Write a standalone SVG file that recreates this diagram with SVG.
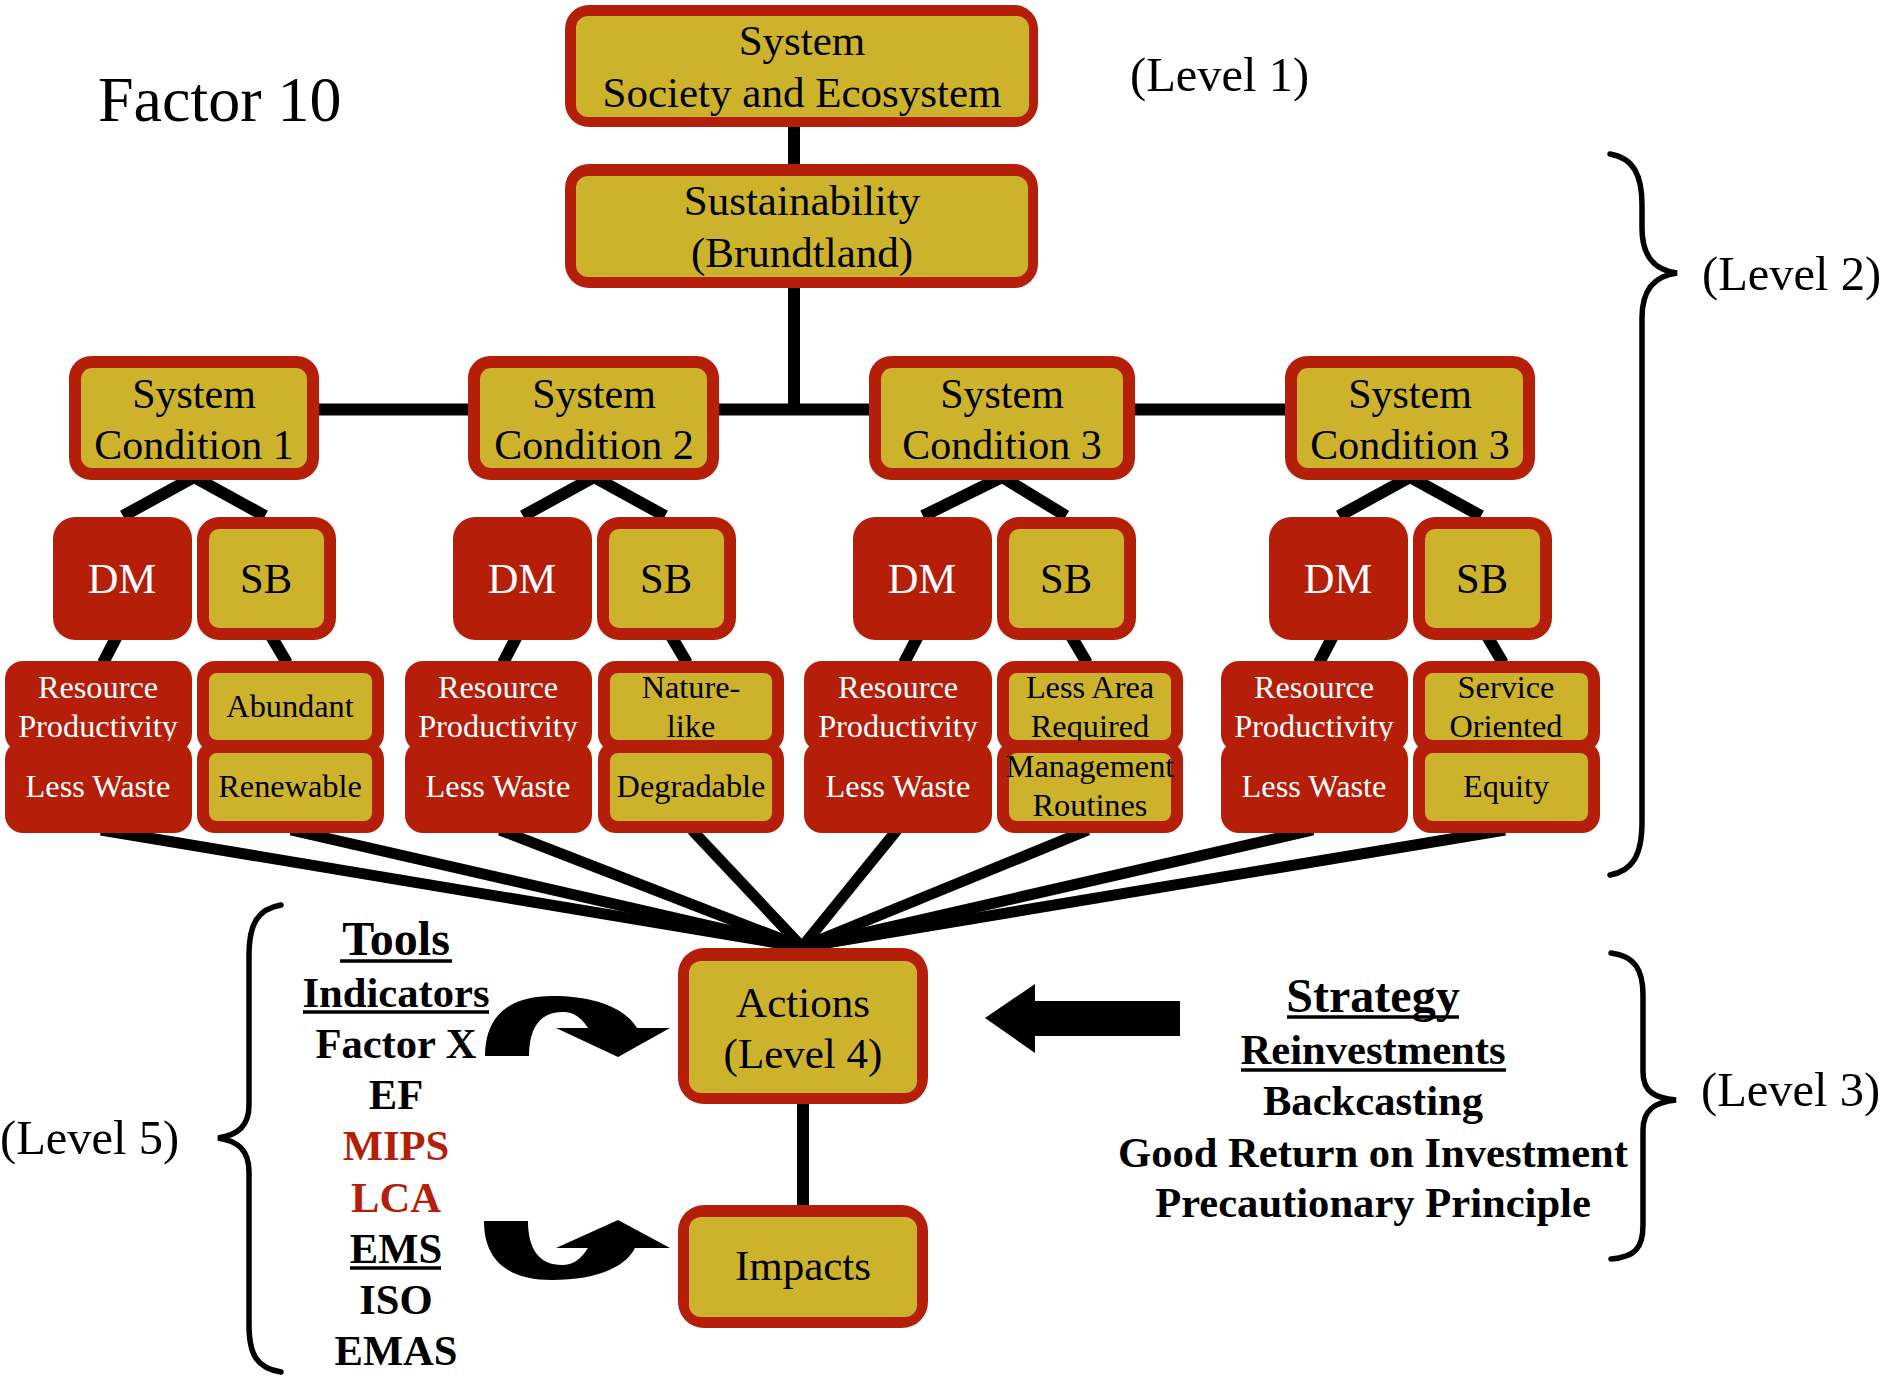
<svg xmlns="http://www.w3.org/2000/svg" width="1886" height="1378" viewBox="0 0 1886 1378">
  <style>
    text { font-family: "Liberation Serif", "Times New Roman", serif; }
    .red { fill: #B51F0A; }
    .gold { fill: #CDB22B; }
    .t43 { font-size: 43px; text-anchor: middle; fill: #000; }
    .t42 { font-size: 42px; text-anchor: middle; fill: #000; }
    .w42 { font-size: 42.5px; text-anchor: middle; fill: #fff; }
    .s42 { font-size: 42.5px; text-anchor: middle; fill: #000; }
    .t32 { font-size: 32.3px; text-anchor: middle; fill: #000; }
    .w32 { font-size: 32.3px; text-anchor: middle; fill: #fff; }
    .lvl { font-size: 48.5px; fill: #000; }
    .bold { font-size: 42.6px; font-weight: bold; text-anchor: middle; fill: #000; }
    .head { font-size: 48px; font-weight: bold; text-anchor: middle; fill: #000; }
    .hl { fill: #B51F0A; }
    .link { stroke: #000; stroke-width: 12; fill: none; stroke-linecap: butt; }
    .fan { stroke: #000; stroke-width: 11; fill: none; }
    .ul { stroke: #000; stroke-width: 3.5; }
    .brace { stroke: #000; stroke-width: 5.5; fill: none; stroke-linecap: round; }
  </style>

  <!-- connectors -->
  <g id="connectors">
    <line class="link" x1="794" y1="120" x2="794" y2="170"/>
    <line class="link" x1="794" y1="280" x2="794" y2="410"/>
    <line class="link" x1="194" y1="409.5" x2="1410" y2="409.5"/>
    <!-- condition to DM / SB -->
    <polyline class="link" points="123,516 194,477 265,516" stroke-linejoin="miter"/>
    <polyline class="link" points="523,516 594,477 665,516" stroke-linejoin="miter"/>
    <polyline class="link" points="923,516 1002,477 1066,516" stroke-linejoin="miter"/>
    <polyline class="link" points="1339,516 1410,477 1481,516" stroke-linejoin="miter"/>
    <!-- DM / SB to sub-boxes -->
    <line class="link" x1="117" y1="636" x2="103" y2="663"/>
    <line class="link" x1="271" y1="636" x2="287" y2="663"/>
    <line class="link" x1="517" y1="636" x2="503" y2="663"/>
    <line class="link" x1="671" y1="636" x2="687" y2="663"/>
    <line class="link" x1="918" y1="636" x2="904" y2="663"/>
    <line class="link" x1="1071" y1="636" x2="1087" y2="663"/>
    <line class="link" x1="1333" y1="636" x2="1319" y2="663"/>
    <line class="link" x1="1487" y1="636" x2="1503" y2="663"/>
    <!-- fan into Actions -->
    <line class="fan" x1="101" y1="830" x2="802" y2="947"/>
    <line class="fan" x1="291" y1="830" x2="802" y2="947"/>
    <line class="fan" x1="500" y1="830" x2="802" y2="947"/>
    <line class="fan" x1="692" y1="830" x2="802" y2="947"/>
    <line class="fan" x1="897" y1="830" x2="802" y2="947"/>
    <line class="fan" x1="1088" y1="830" x2="802" y2="947"/>
    <line class="fan" x1="1313" y1="830" x2="802" y2="947"/>
    <line class="fan" x1="1505" y1="830" x2="802" y2="947"/>
    <!-- Actions to Impacts -->
    <line class="link" x1="803" y1="1100" x2="803" y2="1210"/>
    <!-- curved arrows -->
    <path d="M485 1056 C485 1015 510 996 552 996 C595 996 625 1008 637 1028 L670 1028 L618 1057 L556 1028 L588 1028 C580 1016 573 1012 562 1012 C540 1012 529 1028 529 1056 Z" fill="#000"/>
    <path d="M484 1221 C484 1262 510 1280 552 1280 C595 1280 625 1268 635 1248 L670 1248 L618 1220 L556 1248 L588 1248 C580 1260 573 1265 562 1265 C540 1265 528 1250 528 1221 Z" fill="#000"/>
    <!-- strategy arrow -->
    <polygon points="985,1018 1035,984 1035,1001 1180,1001 1180,1036 1035,1036 1035,1053" fill="#000"/>
  </g>

  <text class="lvl" x="98" y="121" style="font-size:64px">Factor 10</text>

  <g id="level1">
    <rect class="red" x="565" y="5" width="473" height="122" rx="24"/>
    <rect class="gold" x="576" y="16" width="453" height="101" rx="12"/>
    <text class="t43" x="802" y="55">System</text>
    <text class="t43" x="802" y="107">Society and Ecosystem</text>
  </g>
  <text class="lvl" x="1130" y="91">(Level 1)</text>

  <g id="sustainability">
    <rect class="red" x="565" y="164" width="473" height="124" rx="24"/>
    <rect class="gold" x="576" y="176" width="452" height="101" rx="12"/>
    <text class="t43" x="802" y="215">Sustainability</text>
    <text class="t43" x="802" y="267">(Brundtland)</text>
  </g>

  <!-- system conditions -->
  <g id="sc1">
    <rect class="red" x="69" y="356" width="250" height="124" rx="22"/>
    <rect class="gold" x="81" y="368" width="226" height="100" rx="11"/>
    <text class="t42" x="194" y="408">System</text>
    <text class="t42" x="194" y="459">Condition 1</text>
  </g>
  <g id="sc2">
    <rect class="red" x="468" y="356" width="251" height="124" rx="22"/>
    <rect class="gold" x="480" y="368" width="227" height="100" rx="11"/>
    <text class="t42" x="594" y="408">System</text>
    <text class="t42" x="594" y="459">Condition 2</text>
  </g>
  <g id="sc3">
    <rect class="red" x="869" y="356" width="266" height="124" rx="22"/>
    <rect class="gold" x="881" y="368" width="242" height="100" rx="11"/>
    <text class="t42" x="1002" y="408">System</text>
    <text class="t42" x="1002" y="459">Condition 3</text>
  </g>
  <g id="sc4">
    <rect class="red" x="1285" y="356" width="250" height="124" rx="22"/>
    <rect class="gold" x="1297" y="368" width="226" height="100" rx="11"/>
    <text class="t42" x="1410" y="408">System</text>
    <text class="t42" x="1410" y="459">Condition 3</text>
  </g>

  <!-- DM / SB pairs -->
  <g id="dm1"><rect class="red" x="53" y="517" width="139" height="123" rx="22"/><text class="w42" x="122" y="593">DM</text></g>
  <g id="sb1"><rect class="red" x="197" y="517" width="139" height="123" rx="22"/><rect class="gold" x="209" y="529" width="115" height="99" rx="10"/><text class="s42" x="266" y="593">SB</text></g>
  <g id="dm2"><rect class="red" x="453" y="517" width="139" height="123" rx="22"/><text class="w42" x="522" y="593">DM</text></g>
  <g id="sb2"><rect class="red" x="597" y="517" width="139" height="123" rx="22"/><rect class="gold" x="609" y="529" width="115" height="99" rx="10"/><text class="s42" x="666" y="593">SB</text></g>
  <g id="dm3"><rect class="red" x="853" y="517" width="139" height="123" rx="22"/><text class="w42" x="922" y="593">DM</text></g>
  <g id="sb3"><rect class="red" x="997" y="517" width="139" height="123" rx="22"/><rect class="gold" x="1009" y="529" width="115" height="99" rx="10"/><text class="s42" x="1066" y="593">SB</text></g>
  <g id="dm4"><rect class="red" x="1269" y="517" width="139" height="123" rx="22"/><text class="w42" x="1338" y="593">DM</text></g>
  <g id="sb4"><rect class="red" x="1413" y="517" width="139" height="123" rx="22"/><rect class="gold" x="1425" y="529" width="115" height="99" rx="10"/><text class="s42" x="1482" y="593">SB</text></g>

  <!-- sub-boxes, column 1 -->
  <g id="rp1">
    <rect class="red" x="5" y="661" width="187" height="91" rx="18"/>
    <text class="w32" x="98" y="698">Resource</text>
    <text class="w32" x="98" y="737">Productivity</text>
  </g>
  <g id="lw1">
    <rect class="red" x="5" y="741" width="187" height="92" rx="18"/>
    <text class="w32" x="98" y="797">Less Waste</text>
  </g>
  <g id="abundant">
    <rect class="red" x="197" y="661" width="187" height="91" rx="18"/>
    <rect class="gold" x="209" y="673" width="163" height="67" rx="8"/>
    <text class="t32" x="290" y="717">Abundant</text>
  </g>
  <g id="renewable">
    <rect class="red" x="197" y="741" width="187" height="92" rx="18"/>
    <rect class="gold" x="209" y="753" width="163" height="68" rx="8"/>
    <text class="t32" x="290" y="797">Renewable</text>
  </g>

  <!-- column 2 -->
  <g id="rp2">
    <rect class="red" x="405" y="661" width="187" height="91" rx="18"/>
    <text class="w32" x="498" y="698">Resource</text>
    <text class="w32" x="498" y="737">Productivity</text>
  </g>
  <g id="lw2">
    <rect class="red" x="405" y="741" width="187" height="92" rx="18"/>
    <text class="w32" x="498" y="797">Less Waste</text>
  </g>
  <g id="naturelike">
    <rect class="red" x="598" y="661" width="186" height="91" rx="18"/>
    <rect class="gold" x="610" y="673" width="162" height="67" rx="8"/>
    <text class="t32" x="691" y="698">Nature-</text>
    <text class="t32" x="691" y="737">like</text>
  </g>
  <g id="degradable">
    <rect class="red" x="598" y="741" width="186" height="92" rx="18"/>
    <rect class="gold" x="610" y="753" width="162" height="68" rx="8"/>
    <text class="t32" x="691" y="797">Degradable</text>
  </g>

  <!-- column 3 -->
  <g id="rp3">
    <rect class="red" x="804" y="661" width="188" height="91" rx="18"/>
    <text class="w32" x="898" y="698">Resource</text>
    <text class="w32" x="898" y="737">Productivity</text>
  </g>
  <g id="lw3">
    <rect class="red" x="804" y="741" width="188" height="92" rx="18"/>
    <text class="w32" x="898" y="797">Less Waste</text>
  </g>
  <g id="lessarea">
    <rect class="red" x="997" y="661" width="186" height="91" rx="18"/>
    <rect class="gold" x="1009" y="673" width="162" height="67" rx="8"/>
    <text class="t32" x="1090" y="698">Less Area</text>
    <text class="t32" x="1090" y="737">Required</text>
  </g>
  <g id="management">
    <rect class="red" x="997" y="741" width="186" height="92" rx="18"/>
    <rect class="gold" x="1009" y="753" width="162" height="68" rx="8"/>
    <text class="t32" x="1090" y="777">Management</text>
    <text class="t32" x="1090" y="816">Routines</text>
  </g>

  <!-- column 4 -->
  <g id="rp4">
    <rect class="red" x="1221" y="661" width="187" height="91" rx="18"/>
    <text class="w32" x="1314" y="698">Resource</text>
    <text class="w32" x="1314" y="737">Productivity</text>
  </g>
  <g id="lw4">
    <rect class="red" x="1221" y="741" width="187" height="92" rx="18"/>
    <text class="w32" x="1314" y="797">Less Waste</text>
  </g>
  <g id="service">
    <rect class="red" x="1413" y="661" width="187" height="91" rx="18"/>
    <rect class="gold" x="1425" y="673" width="163" height="67" rx="8"/>
    <text class="t32" x="1506" y="698">Service</text>
    <text class="t32" x="1506" y="737">Oriented</text>
  </g>
  <g id="equity">
    <rect class="red" x="1413" y="741" width="187" height="92" rx="18"/>
    <rect class="gold" x="1425" y="753" width="163" height="68" rx="8"/>
    <text class="t32" x="1506" y="797">Equity</text>
  </g>

  <!-- lower part -->
  <g id="actions">
    <rect class="red" x="678" y="948" width="250" height="156" rx="26"/>
    <rect class="gold" x="689" y="961" width="228" height="132" rx="12"/>
    <text class="t43" x="803" y="1017">Actions</text>
    <text class="t43" x="803" y="1068">(Level 4)</text>
  </g>
  <g id="impacts">
    <rect class="red" x="678" y="1205" width="250" height="123" rx="26"/>
    <rect class="gold" x="689" y="1217" width="228" height="100" rx="12"/>
    <text class="t43" x="803" y="1280">Impacts</text>
  </g>

  <g id="tools">
    <text class="head" x="396" y="955">Tools</text>
    <line class="ul" x1="340" y1="961" x2="452" y2="961"/>
    <text class="bold" x="396" y="1007">Indicators</text>
    <line class="ul" x1="303" y1="1012" x2="489" y2="1012"/>
    <text class="bold" x="396" y="1058">Factor X</text>
    <text class="bold" x="396" y="1109">EF</text>
    <text class="bold hl" x="396" y="1160">MIPS</text>
    <text class="bold hl" x="396" y="1212">LCA</text>
    <text class="bold" x="396" y="1263">EMS</text>
    <line class="ul" x1="350" y1="1268" x2="441" y2="1268"/>
    <text class="bold" x="396" y="1314">ISO</text>
    <text class="bold" x="396" y="1365">EMAS</text>
  </g>

  <g id="strategy">
    <text class="head" x="1373" y="1012">Strategy</text>
    <line class="ul" x1="1287" y1="1017" x2="1459" y2="1017"/>
    <text class="bold" x="1373" y="1064">Reinvestments</text>
    <line class="ul" x1="1241" y1="1070" x2="1506" y2="1070"/>
    <text class="bold" x="1373" y="1115">Backcasting</text>
    <text class="bold" x="1373" y="1167">Good Return on Investment</text>
    <text class="bold" x="1373" y="1217">Precautionary Principle</text>
  </g>

  <!-- braces and level labels -->
  <path class="brace" d="M1610 154 C1634 158 1642 176 1642 205 L1642 228 C1642 256 1654 270 1677 273 C1654 276 1642 290 1642 318 L1642 822 C1642 856 1632 871 1610 875"/>
  <text class="lvl" x="1702" y="290">(Level 2)</text>

  <path class="brace" d="M1611 953 C1635 956 1643 970 1643 995 L1643 1072 C1643 1092 1655 1098 1676 1100 C1655 1102 1643 1110 1643 1130 L1643 1225 C1643 1248 1635 1257 1611 1259"/>
  <text class="lvl" x="1701" y="1106">(Level 3)</text>

  <path class="brace" d="M281 905 C257 909 249 925 249 955 L249 1105 C249 1126 238 1135 218 1138 C238 1141 249 1150 249 1172 L249 1325 C249 1355 257 1368 281 1372"/>
  <text class="lvl" x="0" y="1154">(Level 5)</text>
</svg>
